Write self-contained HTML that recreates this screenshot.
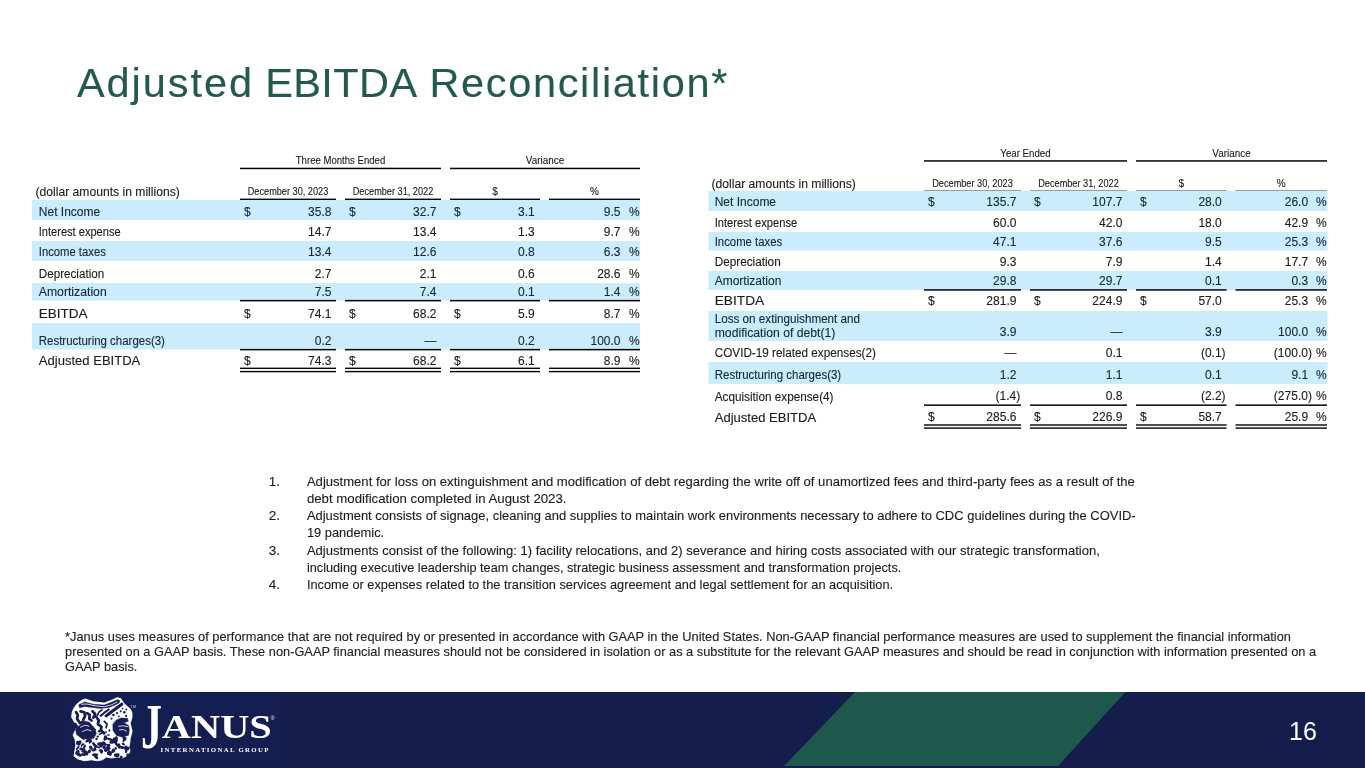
<!DOCTYPE html>
<html><head><meta charset="utf-8"><title>Adjusted EBITDA Reconciliation</title>
<style>
html,body{margin:0;padding:0;background:#fff;width:1365px;height:768px;overflow:hidden}
svg{display:block;will-change:transform}
text{font-family:'Liberation Sans', Arial, sans-serif;}
</style></head><body>
<svg width="1365" height="768" viewBox="0 0 1365 768">
<rect width="1365" height="768" fill="#ffffff"/>
<text y="96.9" font-size="41.5" fill="#245a4e" stroke="#245a4e" stroke-width="0.12"><tspan x="77.0" textLength="175.0" lengthAdjust="spacing">Adjusted</tspan> <tspan x="265.2" textLength="149.6" lengthAdjust="spacing">EBITDA</tspan> <tspan x="429.4" textLength="297.9" lengthAdjust="spacing">Reconciliation*</tspan></text>
<rect x="240.0" y="167.7" width="201.0" height="1.5" fill="#050505"/>
<text x="340.5" y="164.2" font-size="10" text-anchor="middle" textLength="89.5" lengthAdjust="spacingAndGlyphs" fill="#1c1c1c" stroke="#1c1c1c" stroke-width="0.12">Three Months Ended</text>
<rect x="450.0" y="167.7" width="190.0" height="1.5" fill="#050505"/>
<text x="545.0" y="164.2" font-size="10" text-anchor="middle" textLength="38.3" lengthAdjust="spacingAndGlyphs" fill="#1c1c1c" stroke="#1c1c1c" stroke-width="0.12">Variance</text>
<text x="35.5" y="195.8" font-size="12" textLength="144.3" lengthAdjust="spacingAndGlyphs" fill="#1c1c1c" stroke="#1c1c1c" stroke-width="0.12">(dollar amounts in millions)</text>
<rect x="240.0" y="198.6" width="96.0" height="1.5" fill="#050505"/>
<text x="288.0" y="195.3" font-size="10" text-anchor="middle" textLength="80.5" lengthAdjust="spacingAndGlyphs" fill="#1c1c1c" stroke="#1c1c1c" stroke-width="0.12">December 30, 2023</text>
<rect x="345.0" y="198.6" width="96.0" height="1.5" fill="#050505"/>
<text x="393.0" y="195.3" font-size="10" text-anchor="middle" textLength="80.5" lengthAdjust="spacingAndGlyphs" fill="#1c1c1c" stroke="#1c1c1c" stroke-width="0.12">December 31, 2022</text>
<rect x="450.0" y="198.6" width="90.0" height="1.5" fill="#050505"/>
<text x="495.0" y="195.3" font-size="10" text-anchor="middle" fill="#1c1c1c" stroke="#1c1c1c" stroke-width="0.12">$</text>
<rect x="549.0" y="198.6" width="91.0" height="1.5" fill="#050505"/>
<text x="594.5" y="195.3" font-size="10" text-anchor="middle" fill="#1c1c1c" stroke="#1c1c1c" stroke-width="0.12">%</text>
<rect x="32.0" y="200.0" width="608.0" height="20.0" fill="#cbecfc"/>
<text x="38.8" y="215.9" font-size="12" fill="#16283a" stroke="#16283a" stroke-width="0.12">Net Income</text>
<text x="243.9" y="215.9" font-size="12" fill="#16283a" stroke="#16283a" stroke-width="0.12">$</text>
<text x="331.4" y="215.9" font-size="12" text-anchor="end" fill="#16283a" stroke="#16283a" stroke-width="0.12">35.8</text>
<text x="348.9" y="215.9" font-size="12" fill="#16283a" stroke="#16283a" stroke-width="0.12">$</text>
<text x="436.4" y="215.9" font-size="12" text-anchor="end" fill="#16283a" stroke="#16283a" stroke-width="0.12">32.7</text>
<text x="453.9" y="215.9" font-size="12" fill="#16283a" stroke="#16283a" stroke-width="0.12">$</text>
<text x="534.7" y="215.9" font-size="12" text-anchor="end" fill="#16283a" stroke="#16283a" stroke-width="0.12">3.1</text>
<text x="620.5" y="215.9" font-size="12" text-anchor="end" fill="#16283a" stroke="#16283a" stroke-width="0.12">9.5</text>
<text x="628.9" y="215.9" font-size="12" fill="#16283a" stroke="#16283a" stroke-width="0.12">%</text>
<text x="38.8" y="236.2" font-size="12" textLength="81.8" lengthAdjust="spacingAndGlyphs" fill="#1c1c1c" stroke="#1c1c1c" stroke-width="0.12">Interest expense</text>
<text x="331.4" y="236.2" font-size="12" text-anchor="end" fill="#1c1c1c" stroke="#1c1c1c" stroke-width="0.12">14.7</text>
<text x="436.4" y="236.2" font-size="12" text-anchor="end" fill="#1c1c1c" stroke="#1c1c1c" stroke-width="0.12">13.4</text>
<text x="534.7" y="236.2" font-size="12" text-anchor="end" fill="#1c1c1c" stroke="#1c1c1c" stroke-width="0.12">1.3</text>
<text x="620.5" y="236.2" font-size="12" text-anchor="end" fill="#1c1c1c" stroke="#1c1c1c" stroke-width="0.12">9.7</text>
<text x="628.9" y="236.2" font-size="12" fill="#1c1c1c" stroke="#1c1c1c" stroke-width="0.12">%</text>
<rect x="32.0" y="241.0" width="608.0" height="20.0" fill="#cbecfc"/>
<text x="38.8" y="256.2" font-size="12" textLength="67.0" lengthAdjust="spacingAndGlyphs" fill="#16283a" stroke="#16283a" stroke-width="0.12">Income taxes</text>
<text x="331.4" y="256.2" font-size="12" text-anchor="end" fill="#16283a" stroke="#16283a" stroke-width="0.12">13.4</text>
<text x="436.4" y="256.2" font-size="12" text-anchor="end" fill="#16283a" stroke="#16283a" stroke-width="0.12">12.6</text>
<text x="534.7" y="256.2" font-size="12" text-anchor="end" fill="#16283a" stroke="#16283a" stroke-width="0.12">0.8</text>
<text x="620.5" y="256.2" font-size="12" text-anchor="end" fill="#16283a" stroke="#16283a" stroke-width="0.12">6.3</text>
<text x="628.9" y="256.2" font-size="12" fill="#16283a" stroke="#16283a" stroke-width="0.12">%</text>
<text x="38.8" y="277.8" font-size="12" textLength="65.4" lengthAdjust="spacingAndGlyphs" fill="#1c1c1c" stroke="#1c1c1c" stroke-width="0.12">Depreciation</text>
<text x="331.4" y="277.8" font-size="12" text-anchor="end" fill="#1c1c1c" stroke="#1c1c1c" stroke-width="0.12">2.7</text>
<text x="436.4" y="277.8" font-size="12" text-anchor="end" fill="#1c1c1c" stroke="#1c1c1c" stroke-width="0.12">2.1</text>
<text x="534.7" y="277.8" font-size="12" text-anchor="end" fill="#1c1c1c" stroke="#1c1c1c" stroke-width="0.12">0.6</text>
<text x="620.5" y="277.8" font-size="12" text-anchor="end" fill="#1c1c1c" stroke="#1c1c1c" stroke-width="0.12">28.6</text>
<text x="628.9" y="277.8" font-size="12" fill="#1c1c1c" stroke="#1c1c1c" stroke-width="0.12">%</text>
<rect x="32.0" y="283.0" width="608.0" height="17.6" fill="#cbecfc"/>
<text x="38.8" y="296.0" font-size="12" textLength="67.9" lengthAdjust="spacingAndGlyphs" fill="#16283a" stroke="#16283a" stroke-width="0.12">Amortization</text>
<text x="331.4" y="295.8" font-size="12" text-anchor="end" fill="#16283a" stroke="#16283a" stroke-width="0.12">7.5</text>
<text x="436.4" y="295.8" font-size="12" text-anchor="end" fill="#16283a" stroke="#16283a" stroke-width="0.12">7.4</text>
<text x="534.7" y="295.8" font-size="12" text-anchor="end" fill="#16283a" stroke="#16283a" stroke-width="0.12">0.1</text>
<text x="620.5" y="295.8" font-size="12" text-anchor="end" fill="#16283a" stroke="#16283a" stroke-width="0.12">1.4</text>
<text x="628.9" y="295.8" font-size="12" fill="#16283a" stroke="#16283a" stroke-width="0.12">%</text>
<text x="38.8" y="317.8" font-size="12" textLength="48.8" lengthAdjust="spacingAndGlyphs" fill="#1c1c1c" stroke="#1c1c1c" stroke-width="0.12">EBITDA</text>
<text x="243.9" y="317.9" font-size="12" fill="#1c1c1c" stroke="#1c1c1c" stroke-width="0.12">$</text>
<text x="331.4" y="317.9" font-size="12" text-anchor="end" fill="#1c1c1c" stroke="#1c1c1c" stroke-width="0.12">74.1</text>
<text x="348.9" y="317.9" font-size="12" fill="#1c1c1c" stroke="#1c1c1c" stroke-width="0.12">$</text>
<text x="436.4" y="317.9" font-size="12" text-anchor="end" fill="#1c1c1c" stroke="#1c1c1c" stroke-width="0.12">68.2</text>
<text x="453.9" y="317.9" font-size="12" fill="#1c1c1c" stroke="#1c1c1c" stroke-width="0.12">$</text>
<text x="534.7" y="317.9" font-size="12" text-anchor="end" fill="#1c1c1c" stroke="#1c1c1c" stroke-width="0.12">5.9</text>
<text x="620.5" y="317.9" font-size="12" text-anchor="end" fill="#1c1c1c" stroke="#1c1c1c" stroke-width="0.12">8.7</text>
<text x="628.9" y="317.9" font-size="12" fill="#1c1c1c" stroke="#1c1c1c" stroke-width="0.12">%</text>
<rect x="32.0" y="323.0" width="608.0" height="26.5" fill="#cbecfc"/>
<text x="38.8" y="344.7" font-size="12" textLength="126.1" lengthAdjust="spacingAndGlyphs" fill="#16283a" stroke="#16283a" stroke-width="0.12">Restructuring charges(3)</text>
<text x="331.4" y="344.8" font-size="12" text-anchor="end" fill="#16283a" stroke="#16283a" stroke-width="0.12">0.2</text>
<text x="436.4" y="344.8" font-size="12" text-anchor="end" fill="#16283a" stroke="#16283a" stroke-width="0.12">—</text>
<text x="534.7" y="344.8" font-size="12" text-anchor="end" fill="#16283a" stroke="#16283a" stroke-width="0.12">0.2</text>
<text x="620.5" y="344.8" font-size="12" text-anchor="end" fill="#16283a" stroke="#16283a" stroke-width="0.12">100.0</text>
<text x="628.9" y="344.8" font-size="12" fill="#16283a" stroke="#16283a" stroke-width="0.12">%</text>
<text x="38.8" y="365.0" font-size="12" textLength="101.5" lengthAdjust="spacingAndGlyphs" fill="#1c1c1c" stroke="#1c1c1c" stroke-width="0.12">Adjusted EBITDA</text>
<text x="243.9" y="364.8" font-size="12" fill="#1c1c1c" stroke="#1c1c1c" stroke-width="0.12">$</text>
<text x="331.4" y="364.8" font-size="12" text-anchor="end" fill="#1c1c1c" stroke="#1c1c1c" stroke-width="0.12">74.3</text>
<text x="348.9" y="364.8" font-size="12" fill="#1c1c1c" stroke="#1c1c1c" stroke-width="0.12">$</text>
<text x="436.4" y="364.8" font-size="12" text-anchor="end" fill="#1c1c1c" stroke="#1c1c1c" stroke-width="0.12">68.2</text>
<text x="453.9" y="364.8" font-size="12" fill="#1c1c1c" stroke="#1c1c1c" stroke-width="0.12">$</text>
<text x="534.7" y="364.8" font-size="12" text-anchor="end" fill="#1c1c1c" stroke="#1c1c1c" stroke-width="0.12">6.1</text>
<text x="620.5" y="364.8" font-size="12" text-anchor="end" fill="#1c1c1c" stroke="#1c1c1c" stroke-width="0.12">8.9</text>
<text x="628.9" y="364.8" font-size="12" fill="#1c1c1c" stroke="#1c1c1c" stroke-width="0.12">%</text>
<rect x="240.0" y="299.9" width="96.0" height="1.5" fill="#050505"/>
<rect x="345.0" y="299.9" width="96.0" height="1.5" fill="#050505"/>
<rect x="450.0" y="299.9" width="90.0" height="1.5" fill="#050505"/>
<rect x="549.0" y="299.9" width="91.0" height="1.5" fill="#050505"/>
<rect x="240.0" y="348.9" width="96.0" height="1.5" fill="#050505"/>
<rect x="345.0" y="348.9" width="96.0" height="1.5" fill="#050505"/>
<rect x="450.0" y="348.9" width="90.0" height="1.5" fill="#050505"/>
<rect x="549.0" y="348.9" width="91.0" height="1.5" fill="#050505"/>
<rect x="240.0" y="367.6" width="96.0" height="1.4" fill="#050505"/>
<rect x="345.0" y="367.6" width="96.0" height="1.4" fill="#050505"/>
<rect x="450.0" y="367.6" width="90.0" height="1.4" fill="#050505"/>
<rect x="549.0" y="367.6" width="91.0" height="1.4" fill="#050505"/>
<rect x="240.0" y="370.9" width="96.0" height="1.4" fill="#050505"/>
<rect x="345.0" y="370.9" width="96.0" height="1.4" fill="#050505"/>
<rect x="450.0" y="370.9" width="90.0" height="1.4" fill="#050505"/>
<rect x="549.0" y="370.9" width="91.0" height="1.4" fill="#050505"/>
<rect x="924.0" y="160.2" width="203.0" height="1.5" fill="#050505"/>
<text x="1025.5" y="156.9" font-size="10" text-anchor="middle" textLength="50.3" lengthAdjust="spacingAndGlyphs" fill="#1c1c1c" stroke="#1c1c1c" stroke-width="0.12">Year Ended</text>
<rect x="1136.0" y="160.2" width="191.0" height="1.5" fill="#050505"/>
<text x="1231.5" y="156.9" font-size="10" text-anchor="middle" textLength="38.3" lengthAdjust="spacingAndGlyphs" fill="#1c1c1c" stroke="#1c1c1c" stroke-width="0.12">Variance</text>
<text x="711.5" y="187.5" font-size="12" textLength="144.3" lengthAdjust="spacingAndGlyphs" fill="#1c1c1c" stroke="#1c1c1c" stroke-width="0.12">(dollar amounts in millions)</text>
<rect x="924.0" y="190.6" width="97.0" height="1.5" fill="#050505"/>
<text x="972.5" y="186.5" font-size="10" text-anchor="middle" textLength="80.5" lengthAdjust="spacingAndGlyphs" fill="#1c1c1c" stroke="#1c1c1c" stroke-width="0.12">December 30, 2023</text>
<rect x="1030.0" y="190.6" width="97.0" height="1.5" fill="#050505"/>
<text x="1078.5" y="186.5" font-size="10" text-anchor="middle" textLength="80.5" lengthAdjust="spacingAndGlyphs" fill="#1c1c1c" stroke="#1c1c1c" stroke-width="0.12">December 31, 2022</text>
<rect x="1136.0" y="190.6" width="90.6" height="1.5" fill="#050505"/>
<text x="1181.3" y="186.5" font-size="10" text-anchor="middle" fill="#1c1c1c" stroke="#1c1c1c" stroke-width="0.12">$</text>
<rect x="1235.5" y="190.6" width="91.5" height="1.5" fill="#050505"/>
<text x="1281.2" y="186.5" font-size="10" text-anchor="middle" fill="#1c1c1c" stroke="#1c1c1c" stroke-width="0.12">%</text>
<rect x="708.5" y="191.0" width="619.0" height="20.0" fill="#cbecfc"/>
<text x="714.7" y="206.2" font-size="12" fill="#16283a" stroke="#16283a" stroke-width="0.12">Net Income</text>
<text x="927.9" y="206.2" font-size="12" fill="#16283a" stroke="#16283a" stroke-width="0.12">$</text>
<text x="1016.4" y="206.2" font-size="12" text-anchor="end" fill="#16283a" stroke="#16283a" stroke-width="0.12">135.7</text>
<text x="1033.9" y="206.2" font-size="12" fill="#16283a" stroke="#16283a" stroke-width="0.12">$</text>
<text x="1122.4" y="206.2" font-size="12" text-anchor="end" fill="#16283a" stroke="#16283a" stroke-width="0.12">107.7</text>
<text x="1139.9" y="206.2" font-size="12" fill="#16283a" stroke="#16283a" stroke-width="0.12">$</text>
<text x="1221.8" y="206.2" font-size="12" text-anchor="end" fill="#16283a" stroke="#16283a" stroke-width="0.12">28.0</text>
<text x="1308.1" y="206.2" font-size="12" text-anchor="end" fill="#16283a" stroke="#16283a" stroke-width="0.12">26.0</text>
<text x="1315.9" y="206.2" font-size="12" fill="#16283a" stroke="#16283a" stroke-width="0.12">%</text>
<text x="714.7" y="226.7" font-size="12" textLength="82.5" lengthAdjust="spacingAndGlyphs" fill="#1c1c1c" stroke="#1c1c1c" stroke-width="0.12">Interest expense</text>
<text x="1016.4" y="226.7" font-size="12" text-anchor="end" fill="#1c1c1c" stroke="#1c1c1c" stroke-width="0.12">60.0</text>
<text x="1122.4" y="226.7" font-size="12" text-anchor="end" fill="#1c1c1c" stroke="#1c1c1c" stroke-width="0.12">42.0</text>
<text x="1221.8" y="226.7" font-size="12" text-anchor="end" fill="#1c1c1c" stroke="#1c1c1c" stroke-width="0.12">18.0</text>
<text x="1308.1" y="226.7" font-size="12" text-anchor="end" fill="#1c1c1c" stroke="#1c1c1c" stroke-width="0.12">42.9</text>
<text x="1315.9" y="226.7" font-size="12" fill="#1c1c1c" stroke="#1c1c1c" stroke-width="0.12">%</text>
<rect x="708.5" y="232.0" width="619.0" height="18.5" fill="#cbecfc"/>
<text x="714.7" y="246.2" font-size="12" textLength="67.5" lengthAdjust="spacingAndGlyphs" fill="#16283a" stroke="#16283a" stroke-width="0.12">Income taxes</text>
<text x="1016.4" y="246.2" font-size="12" text-anchor="end" fill="#16283a" stroke="#16283a" stroke-width="0.12">47.1</text>
<text x="1122.4" y="246.2" font-size="12" text-anchor="end" fill="#16283a" stroke="#16283a" stroke-width="0.12">37.6</text>
<text x="1221.8" y="246.2" font-size="12" text-anchor="end" fill="#16283a" stroke="#16283a" stroke-width="0.12">9.5</text>
<text x="1308.1" y="246.2" font-size="12" text-anchor="end" fill="#16283a" stroke="#16283a" stroke-width="0.12">25.3</text>
<text x="1315.9" y="246.2" font-size="12" fill="#16283a" stroke="#16283a" stroke-width="0.12">%</text>
<text x="714.7" y="266.4" font-size="12" textLength="66.0" lengthAdjust="spacingAndGlyphs" fill="#1c1c1c" stroke="#1c1c1c" stroke-width="0.12">Depreciation</text>
<text x="1016.4" y="266.4" font-size="12" text-anchor="end" fill="#1c1c1c" stroke="#1c1c1c" stroke-width="0.12">9.3</text>
<text x="1122.4" y="266.4" font-size="12" text-anchor="end" fill="#1c1c1c" stroke="#1c1c1c" stroke-width="0.12">7.9</text>
<text x="1221.8" y="266.4" font-size="12" text-anchor="end" fill="#1c1c1c" stroke="#1c1c1c" stroke-width="0.12">1.4</text>
<text x="1308.1" y="266.4" font-size="12" text-anchor="end" fill="#1c1c1c" stroke="#1c1c1c" stroke-width="0.12">17.7</text>
<text x="1315.9" y="266.4" font-size="12" fill="#1c1c1c" stroke="#1c1c1c" stroke-width="0.12">%</text>
<rect x="708.5" y="271.0" width="619.0" height="19.0" fill="#cbecfc"/>
<text x="714.7" y="285.0" font-size="12" fill="#16283a" stroke="#16283a" stroke-width="0.12">Amortization</text>
<text x="1016.4" y="285.0" font-size="12" text-anchor="end" fill="#16283a" stroke="#16283a" stroke-width="0.12">29.8</text>
<text x="1122.4" y="285.0" font-size="12" text-anchor="end" fill="#16283a" stroke="#16283a" stroke-width="0.12">29.7</text>
<text x="1221.8" y="285.0" font-size="12" text-anchor="end" fill="#16283a" stroke="#16283a" stroke-width="0.12">0.1</text>
<text x="1308.1" y="285.0" font-size="12" text-anchor="end" fill="#16283a" stroke="#16283a" stroke-width="0.12">0.3</text>
<text x="1315.9" y="285.0" font-size="12" fill="#16283a" stroke="#16283a" stroke-width="0.12">%</text>
<text x="714.7" y="305.0" font-size="12" textLength="49.5" lengthAdjust="spacingAndGlyphs" fill="#1c1c1c" stroke="#1c1c1c" stroke-width="0.12">EBITDA</text>
<text x="927.9" y="304.9" font-size="12" fill="#1c1c1c" stroke="#1c1c1c" stroke-width="0.12">$</text>
<text x="1016.4" y="304.9" font-size="12" text-anchor="end" fill="#1c1c1c" stroke="#1c1c1c" stroke-width="0.12">281.9</text>
<text x="1033.9" y="304.9" font-size="12" fill="#1c1c1c" stroke="#1c1c1c" stroke-width="0.12">$</text>
<text x="1122.4" y="304.9" font-size="12" text-anchor="end" fill="#1c1c1c" stroke="#1c1c1c" stroke-width="0.12">224.9</text>
<text x="1139.9" y="304.9" font-size="12" fill="#1c1c1c" stroke="#1c1c1c" stroke-width="0.12">$</text>
<text x="1221.8" y="304.9" font-size="12" text-anchor="end" fill="#1c1c1c" stroke="#1c1c1c" stroke-width="0.12">57.0</text>
<text x="1308.1" y="304.9" font-size="12" text-anchor="end" fill="#1c1c1c" stroke="#1c1c1c" stroke-width="0.12">25.3</text>
<text x="1315.9" y="304.9" font-size="12" fill="#1c1c1c" stroke="#1c1c1c" stroke-width="0.12">%</text>
<rect x="708.5" y="311.0" width="619.0" height="30.0" fill="#cbecfc"/>
<text x="714.7" y="323.4" font-size="12" textLength="145.4" lengthAdjust="spacingAndGlyphs" fill="#16283a" stroke="#16283a" stroke-width="0.12">Loss on extinguishment and</text>
<text x="714.7" y="337.0" font-size="12" textLength="120.7" lengthAdjust="spacingAndGlyphs" fill="#16283a" stroke="#16283a" stroke-width="0.12">modification of debt(1)</text>
<text x="1016.4" y="335.5" font-size="12" text-anchor="end" fill="#16283a" stroke="#16283a" stroke-width="0.12">3.9</text>
<text x="1122.4" y="335.5" font-size="12" text-anchor="end" fill="#16283a" stroke="#16283a" stroke-width="0.12">—</text>
<text x="1221.8" y="335.5" font-size="12" text-anchor="end" fill="#16283a" stroke="#16283a" stroke-width="0.12">3.9</text>
<text x="1308.1" y="335.5" font-size="12" text-anchor="end" fill="#16283a" stroke="#16283a" stroke-width="0.12">100.0</text>
<text x="1315.9" y="335.5" font-size="12" fill="#16283a" stroke="#16283a" stroke-width="0.12">%</text>
<text x="714.7" y="356.6" font-size="12" textLength="161.2" lengthAdjust="spacingAndGlyphs" fill="#1c1c1c" stroke="#1c1c1c" stroke-width="0.12">COVID-19 related expenses(2)</text>
<text x="1016.4" y="356.8" font-size="12" text-anchor="end" fill="#1c1c1c" stroke="#1c1c1c" stroke-width="0.12">—</text>
<text x="1122.4" y="356.8" font-size="12" text-anchor="end" fill="#1c1c1c" stroke="#1c1c1c" stroke-width="0.12">0.1</text>
<text x="1225.6" y="356.8" font-size="12" text-anchor="end" fill="#1c1c1c" stroke="#1c1c1c" stroke-width="0.12">(0.1)</text>
<text x="1311.9" y="356.8" font-size="12" text-anchor="end" fill="#1c1c1c" stroke="#1c1c1c" stroke-width="0.12">(100.0)</text>
<text x="1315.9" y="356.8" font-size="12" fill="#1c1c1c" stroke="#1c1c1c" stroke-width="0.12">%</text>
<rect x="708.5" y="362.0" width="619.0" height="22.0" fill="#cbecfc"/>
<text x="714.7" y="378.7" font-size="12" textLength="126.5" lengthAdjust="spacingAndGlyphs" fill="#16283a" stroke="#16283a" stroke-width="0.12">Restructuring charges(3)</text>
<text x="1016.4" y="378.5" font-size="12" text-anchor="end" fill="#16283a" stroke="#16283a" stroke-width="0.12">1.2</text>
<text x="1122.4" y="378.5" font-size="12" text-anchor="end" fill="#16283a" stroke="#16283a" stroke-width="0.12">1.1</text>
<text x="1221.8" y="378.5" font-size="12" text-anchor="end" fill="#16283a" stroke="#16283a" stroke-width="0.12">0.1</text>
<text x="1308.1" y="378.5" font-size="12" text-anchor="end" fill="#16283a" stroke="#16283a" stroke-width="0.12">9.1</text>
<text x="1315.9" y="378.5" font-size="12" fill="#16283a" stroke="#16283a" stroke-width="0.12">%</text>
<text x="714.7" y="400.5" font-size="12" textLength="118.8" lengthAdjust="spacingAndGlyphs" fill="#1c1c1c" stroke="#1c1c1c" stroke-width="0.12">Acquisition expense(4)</text>
<text x="1020.2" y="400.2" font-size="12" text-anchor="end" fill="#1c1c1c" stroke="#1c1c1c" stroke-width="0.12">(1.4)</text>
<text x="1122.4" y="400.2" font-size="12" text-anchor="end" fill="#1c1c1c" stroke="#1c1c1c" stroke-width="0.12">0.8</text>
<text x="1225.6" y="400.2" font-size="12" text-anchor="end" fill="#1c1c1c" stroke="#1c1c1c" stroke-width="0.12">(2.2)</text>
<text x="1311.9" y="400.2" font-size="12" text-anchor="end" fill="#1c1c1c" stroke="#1c1c1c" stroke-width="0.12">(275.0)</text>
<text x="1315.9" y="400.2" font-size="12" fill="#1c1c1c" stroke="#1c1c1c" stroke-width="0.12">%</text>
<text x="714.7" y="421.6" font-size="12" textLength="101.5" lengthAdjust="spacingAndGlyphs" fill="#1c1c1c" stroke="#1c1c1c" stroke-width="0.12">Adjusted EBITDA</text>
<text x="927.9" y="421.2" font-size="12" fill="#1c1c1c" stroke="#1c1c1c" stroke-width="0.12">$</text>
<text x="1016.4" y="421.2" font-size="12" text-anchor="end" fill="#1c1c1c" stroke="#1c1c1c" stroke-width="0.12">285.6</text>
<text x="1033.9" y="421.2" font-size="12" fill="#1c1c1c" stroke="#1c1c1c" stroke-width="0.12">$</text>
<text x="1122.4" y="421.2" font-size="12" text-anchor="end" fill="#1c1c1c" stroke="#1c1c1c" stroke-width="0.12">226.9</text>
<text x="1139.9" y="421.2" font-size="12" fill="#1c1c1c" stroke="#1c1c1c" stroke-width="0.12">$</text>
<text x="1221.8" y="421.2" font-size="12" text-anchor="end" fill="#1c1c1c" stroke="#1c1c1c" stroke-width="0.12">58.7</text>
<text x="1308.1" y="421.2" font-size="12" text-anchor="end" fill="#1c1c1c" stroke="#1c1c1c" stroke-width="0.12">25.9</text>
<text x="1315.9" y="421.2" font-size="12" fill="#1c1c1c" stroke="#1c1c1c" stroke-width="0.12">%</text>
<rect x="924.0" y="289.2" width="97.0" height="1.5" fill="#050505"/>
<rect x="1030.0" y="289.2" width="97.0" height="1.5" fill="#050505"/>
<rect x="1136.0" y="289.2" width="90.6" height="1.5" fill="#050505"/>
<rect x="1235.5" y="289.2" width="91.5" height="1.5" fill="#050505"/>
<rect x="924.0" y="404.4" width="97.0" height="1.5" fill="#050505"/>
<rect x="1030.0" y="404.4" width="97.0" height="1.5" fill="#050505"/>
<rect x="1136.0" y="404.4" width="90.6" height="1.5" fill="#050505"/>
<rect x="1235.5" y="404.4" width="91.5" height="1.5" fill="#050505"/>
<rect x="924.0" y="424.3" width="97.0" height="1.4" fill="#050505"/>
<rect x="1030.0" y="424.3" width="97.0" height="1.4" fill="#050505"/>
<rect x="1136.0" y="424.3" width="90.6" height="1.4" fill="#050505"/>
<rect x="1235.5" y="424.3" width="91.5" height="1.4" fill="#050505"/>
<rect x="924.0" y="427.4" width="97.0" height="1.4" fill="#050505"/>
<rect x="1030.0" y="427.4" width="97.0" height="1.4" fill="#050505"/>
<rect x="1136.0" y="427.4" width="90.6" height="1.4" fill="#050505"/>
<rect x="1235.5" y="427.4" width="91.5" height="1.4" fill="#050505"/>
<text x="268.8" y="486.3" font-size="13.5" fill="#1c1c1c" stroke="#1c1c1c" stroke-width="0.12">1.</text>
<text x="306.9" y="486.3" font-size="13.5" textLength="828.0" lengthAdjust="spacingAndGlyphs" fill="#1c1c1c" stroke="#1c1c1c" stroke-width="0.12">Adjustment for loss on extinguishment and modification of debt regarding the write off of unamortized fees and third-party fees as a result of the</text>
<text x="306.9" y="503.4" font-size="13.5" textLength="259.6" lengthAdjust="spacingAndGlyphs" fill="#1c1c1c" stroke="#1c1c1c" stroke-width="0.12">debt modification completed in August 2023.</text>
<text x="268.8" y="520.4" font-size="13.5" fill="#1c1c1c" stroke="#1c1c1c" stroke-width="0.12">2.</text>
<text x="306.9" y="520.4" font-size="13.5" textLength="828.8" lengthAdjust="spacingAndGlyphs" fill="#1c1c1c" stroke="#1c1c1c" stroke-width="0.12">Adjustment consists of signage, cleaning and supplies to maintain work environments necessary to adhere to CDC guidelines during the COVID-</text>
<text x="306.9" y="537.4" font-size="13.5" textLength="77.3" lengthAdjust="spacingAndGlyphs" fill="#1c1c1c" stroke="#1c1c1c" stroke-width="0.12">19 pandemic.</text>
<text x="268.8" y="554.5" font-size="13.5" fill="#1c1c1c" stroke="#1c1c1c" stroke-width="0.12">3.</text>
<text x="306.9" y="554.5" font-size="13.5" textLength="792.9" lengthAdjust="spacingAndGlyphs" fill="#1c1c1c" stroke="#1c1c1c" stroke-width="0.12">Adjustments consist of the following: 1) facility relocations, and 2) severance and hiring costs associated with our strategic transformation,</text>
<text x="306.9" y="571.5" font-size="13.5" textLength="594.4" lengthAdjust="spacingAndGlyphs" fill="#1c1c1c" stroke="#1c1c1c" stroke-width="0.12">including executive leadership team changes, strategic business assessment and transformation projects.</text>
<text x="268.8" y="588.6" font-size="13.5" fill="#1c1c1c" stroke="#1c1c1c" stroke-width="0.12">4.</text>
<text x="306.9" y="588.6" font-size="13.5" textLength="586.2" lengthAdjust="spacingAndGlyphs" fill="#1c1c1c" stroke="#1c1c1c" stroke-width="0.12">Income or expenses related to the transition services agreement and legal settlement for an acquisition.</text>
<text x="65.1" y="640.7" font-size="12.8" fill="#222" stroke="#222" stroke-width="0.12">*Janus uses measures of performance that are not required by or presented in accordance with GAAP in the United States. Non-GAAP financial performance measures are used to supplement the financial information</text>
<text x="65.1" y="656.1" font-size="12.8" fill="#222" stroke="#222" stroke-width="0.12">presented on a GAAP basis. These non-GAAP financial measures should not be considered in isolation or as a substitute for the relevant GAAP measures and should be read in conjunction with information presented on a</text>
<text x="65.1" y="671.4" font-size="12.8" fill="#222" stroke="#222" stroke-width="0.12">GAAP basis.</text>

<rect x="0" y="692" width="1365" height="76" fill="#141d4b"/>
<rect x="0" y="692" width="1365" height="1" fill="#151a40"/>
<polygon points="855,692 1125.5,692 1058,766 784,766" fill="#1e574c"/>
<text x="1289" y="740" font-size="25" fill="#ffffff">16</text>

<rect x="64" y="693" width="216" height="73" fill="#151e50"/><polygon points="76.94,704.03 81.50,700.38 85.14,699.01 93.35,701.75 104.29,703.12 113.40,699.47 117.05,697.65 120.69,698.56 124.34,704.03 126.62,705.85 130.27,709.04 131.82,712.23 132.09,716.79 130.27,723.63 132.09,731.37 130.08,739.21 129.99,741.40 129.08,746.87 129.99,750.52 128.17,755.08 122.52,757.81 117.05,757.08 111.58,757.99 106.11,757.08 102.46,759.82 96.99,760.73 91.52,759.82 84.23,760.73 77.85,758.90 74.02,756.17 74.93,750.52 75.85,745.05 75.12,739.58 73.11,735.02 77.21,726.54 71.65,717.25 72.20,712.23 74.20,707.67" fill="#fff" stroke="#fff" stroke-width="0.9" stroke-linejoin="round"/><polygon points="78.76,704.76 84.69,702.02 93.35,704.21 104.29,705.12 113.40,701.47 117.50,699.65 119.78,700.56 119.33,702.66 115.23,704.94 108.84,707.49 100.64,708.40 92.44,707.49 84.69,706.40 79.67,707.86" fill="#161e55" stroke="#161e55" stroke-width="0.5" stroke-linejoin="round"/><polyline points="81.50,704.21 86.97,704.03 95.17,705.85 104.29,706.76 111.58,704.76 117.05,702.02" fill="none" stroke="#fff" stroke-width="0.82" stroke-linecap="round"/><polyline points="121.79,704.21 117.05,707.67 111.58,711.78 106.11,715.88" fill="none" stroke="#161e55" stroke-width="3.10" stroke-linecap="round" stroke-linejoin="round"/><polyline points="108.84,709.50 104.29,712.69 100.64,715.88" fill="none" stroke="#161e55" stroke-width="2.01" stroke-linecap="round" stroke-linejoin="round"/><polyline points="102.01,709.95 98.82,712.23 97.45,715.42" fill="none" stroke="#161e55" stroke-width="1.64" stroke-linecap="round" stroke-linejoin="round"/><polygon points="75.50,729.00 79.50,725.50 84.50,721.20 89.00,722.00 95.50,729.20 96.20,734.00 93.50,738.60 87.00,739.20 80.50,737.50 76.50,734.50" fill="#161e55" stroke="#161e55" stroke-width="0.5" stroke-linejoin="round"/><polyline points="80.50,727.20 85.00,725.20 89.00,726.20" fill="none" stroke="#fff" stroke-width="0.80" stroke-linecap="round" stroke-linejoin="round"/><polyline points="82.50,731.50 87.00,729.60 91.00,730.80" fill="none" stroke="#fff" stroke-width="0.80" stroke-linecap="round" stroke-linejoin="round"/><polygon points="112.80,724.50 116.00,720.20 121.00,718.00 127.50,718.30 128.30,721.30 124.00,722.80 128.50,725.50 129.30,730.00 128.60,735.20 122.50,737.20 116.50,735.50 113.00,730.50" fill="#161e55" stroke="#161e55" stroke-width="0.5" stroke-linejoin="round"/><polyline points="118.50,726.30 123.00,725.80 127.50,726.60" fill="none" stroke="#fff" stroke-width="0.80" stroke-linecap="round" stroke-linejoin="round"/><polyline points="119.50,729.80 123.50,729.60 126.50,731.20" fill="none" stroke="#fff" stroke-width="0.80" stroke-linecap="round" stroke-linejoin="round"/><polyline points="76.03,712.23 77.85,714.97 76.94,718.61 78.76,721.35" fill="none" stroke="#161e55" stroke-width="2.73" stroke-linecap="round" stroke-linejoin="round"/><polyline points="80.59,711.32 84.23,712.23 85.14,715.88 83.32,719.52" fill="none" stroke="#161e55" stroke-width="2.73" stroke-linecap="round" stroke-linejoin="round"/><polyline points="86.97,713.14 89.70,714.97 89.25,718.61 91.52,720.44" fill="none" stroke="#161e55" stroke-width="2.73" stroke-linecap="round" stroke-linejoin="round"/><polyline points="92.44,711.32 95.17,714.05 93.35,717.70" fill="none" stroke="#161e55" stroke-width="2.73" stroke-linecap="round" stroke-linejoin="round"/><polyline points="79.67,723.17 83.32,721.35" fill="none" stroke="#161e55" stroke-width="2.73" stroke-linecap="round" stroke-linejoin="round"/><polyline points="75.12,724.08 76.94,726.82" fill="none" stroke="#161e55" stroke-width="2.73" stroke-linecap="round" stroke-linejoin="round"/><polyline points="96.08,716.79 98.82,720.44 97.91,724.08 101.55,726.82 100.64,730.46 104.29,733.20" fill="none" stroke="#161e55" stroke-width="2.73" stroke-linecap="round" stroke-linejoin="round"/><polyline points="104.29,721.35 107.02,724.08 106.11,727.73" fill="none" stroke="#161e55" stroke-width="1.82" stroke-linecap="round" stroke-linejoin="round"/><circle cx="113.40" cy="714.97" r="1.28" fill="#161e55"/><circle cx="117.05" cy="713.14" r="1.09" fill="#161e55"/><circle cx="120.69" cy="711.32" r="1.09" fill="#161e55"/><circle cx="124.34" cy="712.23" r="1.28" fill="#161e55"/><circle cx="126.16" cy="715.88" r="1.09" fill="#161e55"/><circle cx="118.87" cy="716.33" r="0.91" fill="#161e55"/><circle cx="122.52" cy="708.59" r="0.91" fill="#161e55"/><circle cx="111.58" cy="718.61" r="1.09" fill="#161e55"/><circle cx="126.16" cy="709.50" r="0.91" fill="#161e55"/><ellipse cx="108.96" cy="752.75" rx="2.44" ry="1.77" transform="rotate(133 108.96 752.75)" fill="#161e55"/><ellipse cx="124.79" cy="738.78" rx="1.96" ry="1.77" transform="rotate(117 124.79 738.78)" fill="#161e55"/><ellipse cx="123.66" cy="740.43" rx="1.96" ry="1.14" transform="rotate(98 123.66 740.43)" fill="#161e55"/><ellipse cx="106.37" cy="738.47" rx="1.59" ry="1.17" transform="rotate(165 106.37 738.47)" fill="#161e55"/><ellipse cx="116.51" cy="741.34" rx="2.44" ry="1.04" transform="rotate(111 116.51 741.34)" fill="#161e55"/><ellipse cx="82.73" cy="738.25" rx="2.55" ry="1.10" transform="rotate(39 82.73 738.25)" fill="#161e55"/><ellipse cx="127.97" cy="755.31" rx="1.70" ry="1.79" transform="rotate(97 127.97 755.31)" fill="#161e55"/><ellipse cx="111.87" cy="742.22" rx="2.65" ry="1.54" transform="rotate(174 111.87 742.22)" fill="#161e55"/><ellipse cx="123.28" cy="744.07" rx="1.80" ry="1.06" transform="rotate(26 123.28 744.07)" fill="#161e55"/><ellipse cx="79.47" cy="744.12" rx="2.16" ry="0.91" transform="rotate(122 79.47 744.12)" fill="#161e55"/><ellipse cx="93.89" cy="744.29" rx="2.47" ry="1.35" transform="rotate(57 93.89 744.29)" fill="#161e55"/><ellipse cx="101.47" cy="752.02" rx="1.36" ry="1.80" transform="rotate(4 101.47 752.02)" fill="#161e55"/><ellipse cx="115.67" cy="754.77" rx="1.30" ry="1.63" transform="rotate(66 115.67 754.77)" fill="#161e55"/><ellipse cx="106.61" cy="738.39" rx="1.34" ry="1.08" transform="rotate(172 106.61 738.39)" fill="#161e55"/><ellipse cx="86.42" cy="753.02" rx="2.63" ry="1.77" transform="rotate(62 86.42 753.02)" fill="#161e55"/><ellipse cx="94.79" cy="748.50" rx="2.41" ry="1.01" transform="rotate(135 94.79 748.50)" fill="#161e55"/><ellipse cx="118.18" cy="755.06" rx="1.33" ry="1.77" transform="rotate(16 118.18 755.06)" fill="#161e55"/><ellipse cx="94.04" cy="750.18" rx="2.62" ry="1.22" transform="rotate(166 94.04 750.18)" fill="#161e55"/><ellipse cx="104.85" cy="744.34" rx="1.74" ry="1.07" transform="rotate(14 104.85 744.34)" fill="#161e55"/><ellipse cx="83.90" cy="751.72" rx="2.73" ry="1.06" transform="rotate(9 83.90 751.72)" fill="#161e55"/><ellipse cx="128.20" cy="748.67" rx="1.87" ry="1.13" transform="rotate(107 128.20 748.67)" fill="#161e55"/><ellipse cx="119.71" cy="747.14" rx="1.89" ry="0.96" transform="rotate(165 119.71 747.14)" fill="#161e55"/><ellipse cx="77.76" cy="747.88" rx="2.50" ry="1.03" transform="rotate(132 77.76 747.88)" fill="#161e55"/><ellipse cx="126.24" cy="750.57" rx="2.43" ry="1.01" transform="rotate(78 126.24 750.57)" fill="#161e55"/><ellipse cx="83.92" cy="754.77" rx="1.71" ry="1.32" transform="rotate(180 83.92 754.77)" fill="#161e55"/><ellipse cx="121.09" cy="757.34" rx="1.94" ry="1.36" transform="rotate(131 121.09 757.34)" fill="#161e55"/><ellipse cx="101.36" cy="743.92" rx="1.87" ry="1.05" transform="rotate(68 101.36 743.92)" fill="#161e55"/><ellipse cx="109.18" cy="748.00" rx="1.77" ry="0.99" transform="rotate(49 109.18 748.00)" fill="#161e55"/><ellipse cx="117.37" cy="755.21" rx="1.80" ry="1.63" transform="rotate(139 117.37 755.21)" fill="#161e55"/><ellipse cx="112.75" cy="751.23" rx="2.38" ry="1.24" transform="rotate(127 112.75 751.23)" fill="#161e55"/><ellipse cx="90.88" cy="747.73" rx="2.40" ry="1.54" transform="rotate(53 90.88 747.73)" fill="#161e55"/><ellipse cx="126.02" cy="750.94" rx="2.12" ry="0.92" transform="rotate(98 126.02 750.94)" fill="#161e55"/><ellipse cx="89.28" cy="751.37" rx="1.95" ry="1.66" transform="rotate(117 89.28 751.37)" fill="#161e55"/><ellipse cx="118.20" cy="745.03" rx="2.22" ry="1.58" transform="rotate(149 118.20 745.03)" fill="#161e55"/><ellipse cx="94.53" cy="754.73" rx="2.54" ry="1.54" transform="rotate(176 94.53 754.73)" fill="#161e55"/><ellipse cx="126.60" cy="748.37" rx="2.05" ry="1.06" transform="rotate(151 126.60 748.37)" fill="#161e55"/><ellipse cx="125.59" cy="747.56" rx="2.28" ry="1.57" transform="rotate(131 125.59 747.56)" fill="#161e55"/><ellipse cx="85.11" cy="753.51" rx="2.12" ry="1.52" transform="rotate(76 85.11 753.51)" fill="#161e55"/><ellipse cx="109.01" cy="753.39" rx="2.21" ry="1.57" transform="rotate(5 109.01 753.39)" fill="#161e55"/><ellipse cx="84.49" cy="746.86" rx="2.22" ry="1.11" transform="rotate(123 84.49 746.86)" fill="#161e55"/><ellipse cx="109.38" cy="739.03" rx="1.96" ry="1.12" transform="rotate(10 109.38 739.03)" fill="#161e55"/><ellipse cx="83.09" cy="744.43" rx="1.54" ry="1.09" transform="rotate(6 83.09 744.43)" fill="#161e55"/><ellipse cx="100.63" cy="745.66" rx="2.17" ry="1.45" transform="rotate(43 100.63 745.66)" fill="#161e55"/><ellipse cx="123.78" cy="738.22" rx="1.87" ry="1.17" transform="rotate(74 123.78 738.22)" fill="#161e55"/><ellipse cx="82.11" cy="754.51" rx="1.82" ry="0.94" transform="rotate(110 82.11 754.51)" fill="#161e55"/><ellipse cx="81.04" cy="748.90" rx="1.77" ry="1.44" transform="rotate(172 81.04 748.90)" fill="#161e55"/><ellipse cx="119.30" cy="746.43" rx="2.46" ry="1.50" transform="rotate(66 119.30 746.43)" fill="#161e55"/><ellipse cx="83.54" cy="749.89" rx="2.10" ry="1.78" transform="rotate(174 83.54 749.89)" fill="#161e55"/><ellipse cx="108.21" cy="745.09" rx="2.58" ry="0.91" transform="rotate(19 108.21 745.09)" fill="#161e55"/><ellipse cx="105.94" cy="750.27" rx="1.48" ry="1.49" transform="rotate(160 105.94 750.27)" fill="#161e55"/><ellipse cx="95.90" cy="746.67" rx="1.61" ry="1.18" transform="rotate(175 95.90 746.67)" fill="#161e55"/><ellipse cx="96.11" cy="757.05" rx="2.61" ry="1.45" transform="rotate(47 96.11 757.05)" fill="#161e55"/><ellipse cx="127.89" cy="747.94" rx="1.88" ry="1.20" transform="rotate(177 127.89 747.94)" fill="#161e55"/><ellipse cx="102.03" cy="743.82" rx="1.97" ry="1.02" transform="rotate(112 102.03 743.82)" fill="#161e55"/><ellipse cx="99.47" cy="743.96" rx="2.42" ry="1.67" transform="rotate(2 99.47 743.96)" fill="#161e55"/><ellipse cx="104.18" cy="743.58" rx="2.64" ry="1.62" transform="rotate(44 104.18 743.58)" fill="#161e55"/><ellipse cx="90.18" cy="741.24" rx="2.72" ry="1.18" transform="rotate(109 90.18 741.24)" fill="#161e55"/><ellipse cx="101.12" cy="750.85" rx="2.16" ry="1.59" transform="rotate(21 101.12 750.85)" fill="#161e55"/><ellipse cx="116.23" cy="744.10" rx="2.05" ry="1.22" transform="rotate(53 116.23 744.10)" fill="#161e55"/><ellipse cx="104.04" cy="747.31" rx="1.80" ry="1.59" transform="rotate(106 104.04 747.31)" fill="#161e55"/><ellipse cx="77.95" cy="743.16" rx="1.94" ry="1.75" transform="rotate(160 77.95 743.16)" fill="#161e55"/><ellipse cx="104.87" cy="738.50" rx="2.41" ry="1.30" transform="rotate(104 104.87 738.50)" fill="#161e55"/><ellipse cx="113.47" cy="750.60" rx="1.98" ry="1.74" transform="rotate(69 113.47 750.60)" fill="#161e55"/><ellipse cx="96.75" cy="754.91" rx="1.56" ry="1.18" transform="rotate(149 96.75 754.91)" fill="#161e55"/><ellipse cx="79.52" cy="754.60" rx="2.29" ry="1.31" transform="rotate(52 79.52 754.60)" fill="#161e55"/><ellipse cx="117.31" cy="756.06" rx="1.48" ry="1.35" transform="rotate(99 117.31 756.06)" fill="#161e55"/><ellipse cx="102.34" cy="744.69" rx="1.50" ry="1.45" transform="rotate(146 102.34 744.69)" fill="#161e55"/><ellipse cx="79.64" cy="742.72" rx="2.47" ry="1.63" transform="rotate(119 79.64 742.72)" fill="#161e55"/><ellipse cx="77.38" cy="752.37" rx="2.70" ry="1.82" transform="rotate(126 77.38 752.37)" fill="#161e55"/><ellipse cx="78.61" cy="754.71" rx="1.60" ry="1.50" transform="rotate(171 78.61 754.71)" fill="#161e55"/><ellipse cx="113.70" cy="740.85" rx="1.70" ry="1.75" transform="rotate(27 113.70 740.85)" fill="#161e55"/><ellipse cx="108.31" cy="746.32" rx="1.51" ry="1.48" transform="rotate(8 108.31 746.32)" fill="#161e55"/><ellipse cx="81.75" cy="745.64" rx="1.38" ry="0.96" transform="rotate(104 81.75 745.64)" fill="#161e55"/><ellipse cx="115.28" cy="755.43" rx="1.47" ry="1.31" transform="rotate(57 115.28 755.43)" fill="#161e55"/><ellipse cx="107.76" cy="747.81" rx="2.65" ry="1.25" transform="rotate(10 107.76 747.81)" fill="#161e55"/><ellipse cx="112.89" cy="741.17" rx="2.20" ry="1.37" transform="rotate(164 112.89 741.17)" fill="#161e55"/><ellipse cx="105.37" cy="750.38" rx="1.66" ry="1.41" transform="rotate(46 105.37 750.38)" fill="#161e55"/><ellipse cx="115.71" cy="748.34" rx="1.47" ry="1.13" transform="rotate(67 115.71 748.34)" fill="#161e55"/><ellipse cx="114.98" cy="741.73" rx="2.32" ry="1.51" transform="rotate(15 114.98 741.73)" fill="#161e55"/><ellipse cx="111.34" cy="740.00" rx="1.46" ry="1.45" transform="rotate(43 111.34 740.00)" fill="#161e55"/><ellipse cx="122.39" cy="747.63" rx="1.75" ry="1.64" transform="rotate(5 122.39 747.63)" fill="#161e55"/><ellipse cx="114.36" cy="739.26" rx="1.50" ry="1.78" transform="rotate(123 114.36 739.26)" fill="#161e55"/><ellipse cx="87.82" cy="740.49" rx="2.69" ry="1.52" transform="rotate(148 87.82 740.49)" fill="#161e55"/><ellipse cx="83.42" cy="750.46" rx="1.79" ry="1.13" transform="rotate(60 83.42 750.46)" fill="#161e55"/><ellipse cx="108.48" cy="745.05" rx="1.84" ry="1.04" transform="rotate(150 108.48 745.05)" fill="#161e55"/><ellipse cx="110.28" cy="753.98" rx="1.91" ry="1.69" transform="rotate(93 110.28 753.98)" fill="#161e55"/><ellipse cx="107.36" cy="749.45" rx="2.36" ry="1.27" transform="rotate(17 107.36 749.45)" fill="#161e55"/><ellipse cx="77.78" cy="742.18" rx="1.33" ry="1.72" transform="rotate(87 77.78 742.18)" fill="#161e55"/><ellipse cx="116.23" cy="738.22" rx="1.96" ry="1.72" transform="rotate(112 116.23 738.22)" fill="#161e55"/><ellipse cx="98.69" cy="747.34" rx="1.42" ry="1.05" transform="rotate(29 98.69 747.34)" fill="#161e55"/><ellipse cx="95.83" cy="745.77" rx="2.56" ry="1.05" transform="rotate(46 95.83 745.77)" fill="#161e55"/><ellipse cx="90.70" cy="741.38" rx="1.69" ry="1.13" transform="rotate(87 90.70 741.38)" fill="#161e55"/><ellipse cx="96.52" cy="738.89" rx="1.25" ry="1.24" fill="#161e55"/><ellipse cx="105.49" cy="736.61" rx="1.34" ry="1.25" fill="#161e55"/><ellipse cx="97.69" cy="736.56" rx="1.18" ry="1.10" fill="#161e55"/><ellipse cx="106.05" cy="731.95" rx="1.09" ry="0.74" fill="#161e55"/><ellipse cx="99.23" cy="731.18" rx="1.28" ry="1.26" fill="#161e55"/><ellipse cx="101.06" cy="733.31" rx="1.34" ry="0.88" fill="#161e55"/><ellipse cx="106.10" cy="737.01" rx="1.06" ry="0.86" fill="#161e55"/><ellipse cx="105.27" cy="739.04" rx="1.50" ry="0.96" fill="#161e55"/><ellipse cx="109.42" cy="730.52" rx="0.97" ry="1.16" fill="#161e55"/><ellipse cx="101.69" cy="730.87" rx="1.41" ry="1.27" fill="#161e55"/><ellipse cx="103.18" cy="733.65" rx="1.00" ry="0.77" fill="#161e55"/><ellipse cx="108.37" cy="734.94" rx="1.76" ry="0.76" fill="#161e55"/><ellipse cx="99.41" cy="730.92" rx="1.27" ry="0.76" fill="#161e55"/><ellipse cx="99.57" cy="734.18" rx="1.19" ry="0.76" fill="#161e55"/><text x="130.3" y="708.2" font-size="4" fill="#c8cce0" style="font-family:Liberation Sans,sans-serif">TM</text><text transform="translate(141.0,747.6) scale(0.70,1.07)" font-size="60" font-weight="bold" fill="#ffffff" style="font-family:Liberation Serif,serif">J</text><text x="161.8" y="738.3" font-size="34.5" font-weight="bold" textLength="110" lengthAdjust="spacingAndGlyphs" fill="#ffffff" style="font-family:Liberation Serif,serif">ANUS</text><text x="270.8" y="720" font-size="5" fill="#ffffff" style="font-family:Liberation Sans,sans-serif">®</text><text x="160.6" y="752.2" font-size="6.8" font-weight="bold" textLength="107.8" lengthAdjust="spacing" fill="#ffffff" style="font-family:Liberation Serif,serif">INTERNATIONAL GROUP</text>
</svg>
</body></html>
